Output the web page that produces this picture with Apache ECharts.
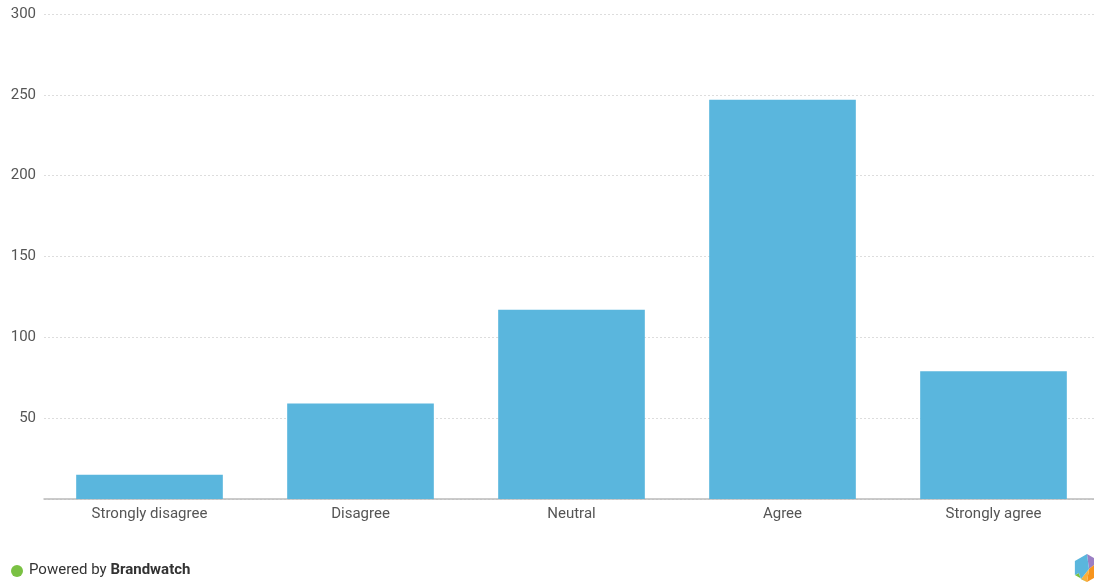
<!DOCTYPE html>
<html><head><meta charset="utf-8">
<script src="https://cdn.jsdelivr.net/npm/echarts@6/dist/echarts.min.js"></script>
<style>html,body{margin:0;padding:0;background:#fff;overflow:hidden;width:1094px;height:583px}#c{width:1100px;height:583px}</style>
</head><body><div id="c"></div>
<script>
var categories = ['Strongly disagree', 'Disagree', 'Neutral', 'Agree', 'Strongly agree'];
var values = [15, 59, 117, 247, 79];
var yTicks = [0, 50, 100, 150, 200, 250, 300];

var chart = echarts.init(document.getElementById('c'), null, {renderer: 'canvas'});
function hexPt(cx, cy, r, i) { var a = Math.PI / 180 * (60 * i - 90); return [cx + r * Math.cos(a), cy + r * Math.sin(a)]; }
var cx = 1087, cy = 568, r = 14;
var P = []; for (var i = 0; i < 6; i++) P.push(hexPt(cx, cy, r, i));
var C = [cx + 2, cy + 1];
var Y = [P[3][0] - 6, P[3][1] - 3], G = [P[4][0] + 4, P[4][1] - 2];
chart.setOption({
  animation: false,
  grid: {left: 44, right: 1, top: 14, bottom: 84, containLabel: false},
  xAxis: {
    type: 'category', data: categories,
    axisLine: {lineStyle: {color: '#bbbbbb', width: 1.5}},
    axisTick: {show: false},
    axisLabel: {color: '#555', fontFamily: 'Roboto', fontSize: 15, margin: 8}
  },
  yAxis: {
    type: 'value', min: yTicks[0], max: yTicks[yTicks.length - 1], interval: 50,
    axisLine: {show: false}, axisTick: {show: false},
    axisLabel: {color: '#555', fontFamily: 'Roboto', fontSize: 15, margin: 8,
      formatter: function (v) { return v === 0 ? '' : v; }},
    splitLine: {lineStyle: {color: '#dddddd', type: [2, 2], width: 1}}
  },
  series: [{
    type: 'bar', data: values, barWidth: '69.5%',
    itemStyle: {color: '#5ab6dd'}
  }],
  graphic: [
    {type: 'circle', shape: {cx: 17, cy: 571, r: 6}, style: {fill: '#7ac143'}},
    {type: 'text', left: 29, top: 563, style: {rich: {a: {fontFamily: 'Roboto', fontSize: 15, fill: '#333'}, b: {fontFamily: 'Roboto', fontSize: 15, fontWeight: 'bold', fill: '#333'}}, text: '{a|Powered by }{b|Brandwatch}'}},
    {type: 'polygon', shape: {points: [P[0], P[1], C]}, style: {fill: '#9b7fc4'}},
    {type: 'polygon', shape: {points: [P[1], P[2], P[3], C]}, style: {fill: '#f7941d'}},
    {type: 'polygon', shape: {points: [P[3], Y, C]}, style: {fill: '#fbb03b'}},
    {type: 'polygon', shape: {points: [P[3], P[4], G, Y]}, style: {fill: '#7ac143'}},
    {type: 'polygon', shape: {points: [P[4], P[5], P[0], C, Y, G]}, style: {fill: '#5ab6dd'}}
  ]
});
</script></body></html>
